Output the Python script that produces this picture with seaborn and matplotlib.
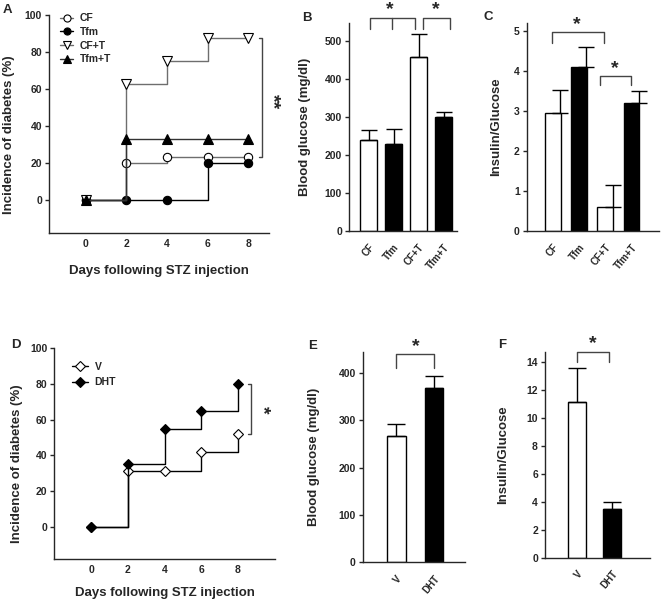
import numpy as np
import matplotlib
matplotlib.use("Agg")
import matplotlib.pyplot as plt
import seaborn as sns

# ---------------- data ----------------
days = [0, 2, 4, 6, 8]
inc_cf = [0, 20, 23, 23, 23]
inc_tfm = [0, 0, 0, 20, 20]
inc_cft = [0, 62.5, 75, 87.5, 87.5]
inc_tfmt = [0, 33, 33, 33, 33]

groups4 = ["CF", "Tfm", "CF+T", "Tfm+T"]
glucose4 = [240, 228, 457, 300]
glucose4_top = [267, 268, 520, 314]
ratio4 = [2.95, 4.1, 0.6, 3.2]
ratio4_top = [3.53, 4.6, 1.15, 3.5]

inc_v = [0, 31, 31, 42, 52]
inc_dht = [0, 35, 55, 65, 80]

groups2 = ["V", "DHT"]
glucose2 = [267, 368]
glucose2_top = [292, 394]
ratio2 = [11.15, 3.5]
ratio2_top = [13.55, 3.95]

# ---------------- style ----------------
sns.set_style("ticks")
plt.rcParams["font.family"] = ["Liberation Sans", "DejaVu Sans"]
plt.rcParams["font.weight"] = "bold"
plt.rcParams["axes.labelweight"] = "bold"
plt.rcParams["axes.linewidth"] = 1.0
plt.rcParams["xtick.labelsize"] = 7.5
plt.rcParams["ytick.labelsize"] = 7.5
plt.rcParams["axes.labelsize"] = 9.5

fig = plt.figure(figsize=(6.62, 6.03), dpi=100)

axA = fig.add_axes([0.074, 0.6136, 0.332, 0.3614])
axB = fig.add_axes([0.527, 0.617, 0.163, 0.345])
axC = fig.add_axes([0.7956, 0.617, 0.1999, 0.345])
axD = fig.add_axes([0.082, 0.073, 0.333, 0.3494])
axE = fig.add_axes([0.548, 0.0675, 0.1545, 0.3483])
axF = fig.add_axes([0.823, 0.075, 0.1586, 0.3408])

GRAY = "#6e6e6e"


def style_axes(ax, xpad=4):
    sns.despine(ax=ax)
    ax.tick_params(axis="y", length=3, width=1, pad=2)
    ax.tick_params(axis="x", length=0, pad=xpad)


def rotate_labels(ax):
    for lab in ax.get_xticklabels():
        lab.set_rotation(50)
        lab.set_ha("right")
        lab.set_rotation_mode("anchor")
        lab.set_fontsize(7)


def bracket(ax, x0, x1, ytop, yleg, mid=None):
    xs = [x0, x0, x1, x1]
    ys = [yleg, ytop, ytop, yleg]
    ax.plot(xs, ys, color="#444444", lw=1, clip_on=False)
    if mid is not None:
        ax.plot([mid, mid], [ytop, yleg], color="#444444", lw=1, clip_on=False)


STAR = 14

# ---------------- A ----------------
line_kw = dict(drawstyle="steps-post", linewidth=1.0, markeredgecolor="black",
               markeredgewidth=0.8)
sns.lineplot(x=days, y=inc_cf, ax=axA, color=GRAY, marker="o", markersize=6,
             markerfacecolor="white", label="CF", **line_kw)
sns.lineplot(x=days, y=inc_tfm, ax=axA, color="black", marker="o", markersize=6,
             markerfacecolor="black", label="Tfm", **line_kw)
sns.lineplot(x=days, y=inc_cft, ax=axA, color=GRAY, marker="v", markersize=7,
             markerfacecolor="white", label="CF+T", **line_kw)
sns.lineplot(x=days, y=inc_tfmt, ax=axA, color="#333333", marker="^", markersize=7,
             markerfacecolor="black", label="Tfm+T", **line_kw)
axA.set_xlim(-1.8, 9.0)
axA.set_ylim(-18, 100)
axA.set_xticks(days)
axA.set_yticks([0, 20, 40, 60, 80, 100])
axA.set_xlabel("Days following STZ injection")
axA.set_ylabel("Incidence of diabetes (%)")
style_axes(axA)
axA.xaxis.set_label_coords(0.5, -0.145)
axA.yaxis.set_label_coords(-0.155, 0.45)
axA.legend(loc="upper left", bbox_to_anchor=(0.03, 1.027), frameon=False,
           fontsize=7.5, handlelength=1.3, handletextpad=0.6, labelspacing=0.35,
           borderaxespad=0, markerscale=0.85)
axA.plot([8.5, 8.67, 8.67, 8.5], [87.5, 87.5, 23, 23], color="#444444", lw=1,
         clip_on=False)
axA.text(9.2, 53, "**", rotation=-90, ha="center", va="center", fontsize=STAR,
         clip_on=False)

# ---------------- B ----------------
pal4 = {"CF": "white", "Tfm": "black", "CF+T": "white", "Tfm+T": "black"}
sns.barplot(x=groups4, y=glucose4, hue=groups4, palette=pal4, edgecolor="black",
            linewidth=1, width=0.65, errorbar=None, legend=False, ax=axB)
pos4 = np.arange(len(groups4))
axB.errorbar(pos4, glucose4,
             yerr=[np.zeros(len(groups4)), np.array(glucose4_top) - np.array(glucose4)],
             fmt="none", ecolor="black", elinewidth=1, capsize=5.8, capthick=1, zorder=1)
axB.set_xlim(-0.79, 3.53)
axB.set_ylim(0, 548)
axB.set_yticks([0, 100, 200, 300, 400, 500])
axB.set_ylabel("Blood glucose (mg/dl)")
style_axes(axB, xpad=8)
axB.yaxis.set_label_coords(-0.355, 0.5)
rotate_labels(axB)
bracket(axB, 0.05, 1.85, 562, 533, mid=0.92)
bracket(axB, 2.18, 3.25, 562, 533)
axB.text(0.85, 560, "*", ha="center", va="bottom", fontsize=STAR, clip_on=False)
axB.text(2.68, 560, "*", ha="center", va="bottom", fontsize=STAR, clip_on=False)

# ---------------- C ----------------
sns.barplot(x=groups4, y=ratio4, hue=groups4, palette=pal4, edgecolor="black",
            linewidth=1, width=0.6, errorbar=None, legend=False, ax=axC)
axC.errorbar(pos4 + 0.28, ratio4,
             yerr=[np.zeros(len(groups4)), np.array(ratio4_top) - np.array(ratio4)],
             fmt="none", ecolor="black", elinewidth=1, capsize=5.6, capthick=1, zorder=1)
axC.set_xlim(-1.0, 4.05)
axC.set_ylim(0, 5.2)
axC.set_yticks([0, 1, 2, 3, 4, 5])
axC.set_ylabel("Insulin/Glucose")
style_axes(axC, xpad=8)
axC.yaxis.set_label_coords(-0.189, 0.5)
rotate_labels(axC)
bracket(axC, -0.04, 1.94, 4.97, 4.69)
bracket(axC, 1.78, 2.99, 3.875, 3.65)
axC.text(0.92, 4.95, "*", ha="center", va="bottom", fontsize=STAR, clip_on=False)
axC.text(2.38, 3.85, "*", ha="center", va="bottom", fontsize=STAR, clip_on=False)

# ---------------- D ----------------
sns.lineplot(x=days, y=inc_v, ax=axD, color="black", marker="D", markersize=5.5,
             markerfacecolor="white", label="V", **line_kw)
sns.lineplot(x=days, y=inc_dht, ax=axD, color="black", marker="D", markersize=5.5,
             markerfacecolor="black", label="DHT", **line_kw)
axD.set_xlim(-2.0, 10.0)
axD.set_ylim(-18, 100)
axD.set_xticks(days)
axD.set_yticks([0, 20, 40, 60, 80, 100])
axD.set_xlabel("Days following STZ injection")
axD.set_ylabel("Incidence of diabetes (%)")
style_axes(axD)
axD.xaxis.set_label_coords(0.5, -0.133)
axD.yaxis.set_label_coords(-0.14, 0.45)
axD.legend(loc="upper left", bbox_to_anchor=(0.06, 0.955), frameon=False,
           fontsize=7.5, handlelength=1.6, handletextpad=0.6, labelspacing=0.5,
           borderaxespad=0)
axD.plot([8.57, 8.73, 8.73, 8.57], [80, 80, 52, 52], color="#444444", lw=1,
         clip_on=False)
axD.text(9.35, 65.5, "*", rotation=-90, ha="center", va="center", fontsize=STAR,
         clip_on=False)

# ---------------- E ----------------
pal2 = {"V": "white", "DHT": "black"}
pos2 = np.arange(len(groups2))
sns.barplot(x=groups2, y=glucose2, hue=groups2, palette=pal2, edgecolor="black",
            linewidth=1, width=0.5, errorbar=None, legend=False, ax=axE)
axE.errorbar(pos2, glucose2,
             yerr=[np.zeros(len(groups2)), np.array(glucose2_top) - np.array(glucose2)],
             fmt="none", ecolor="black", elinewidth=1, capsize=6.8, capthick=1, zorder=1)
axE.set_xlim(-0.88, 1.82)
axE.set_ylim(0, 444)
axE.set_yticks([0, 100, 200, 300, 400])
axE.set_ylabel("Blood glucose (mg/dl)")
style_axes(axE, xpad=8)
axE.yaxis.set_label_coords(-0.417, 0.5)
rotate_labels(axE)
bracket(axE, 0.0, 1.0, 440, 410)
axE.text(0.53, 438, "*", ha="center", va="bottom", fontsize=STAR, clip_on=False)

# ---------------- F ----------------
sns.barplot(x=groups2, y=ratio2, hue=groups2, palette=pal2, edgecolor="black",
            linewidth=1, width=0.5, errorbar=None, legend=False, ax=axF)
axF.errorbar(pos2, ratio2,
             yerr=[np.zeros(len(groups2)), np.array(ratio2_top) - np.array(ratio2)],
             fmt="none", ecolor="black", elinewidth=1, capsize=6.2, capthick=1, zorder=1)
axF.set_xlim(-0.92, 2.08)
axF.set_ylim(0, 14.67)
axF.set_yticks([0, 2, 4, 6, 8, 10, 12, 14])
axF.set_ylabel("Insulin/Glucose")
style_axes(axF, xpad=8)
axF.yaxis.set_label_coords(-0.343, 0.5)
rotate_labels(axF)
bracket(axF, 0.0, 0.91, 14.7, 13.96)
axF.text(0.46, 14.65, "*", ha="center", va="bottom", fontsize=STAR, clip_on=False)

# ---------------- panel letters ----------------
for lbl, xpx, ypx in [("A", 3, 4), ("B", 302, 12), ("C", 483, 11),
                      ("D", 11, 339), ("E", 308, 340), ("F", 498, 339)]:
    fig.text(xpx / 662, 1 - ypx / 603, lbl, ha="left", va="top", fontsize=9.5,
             fontweight="bold")

fig.savefig("out.png", dpi=100)
